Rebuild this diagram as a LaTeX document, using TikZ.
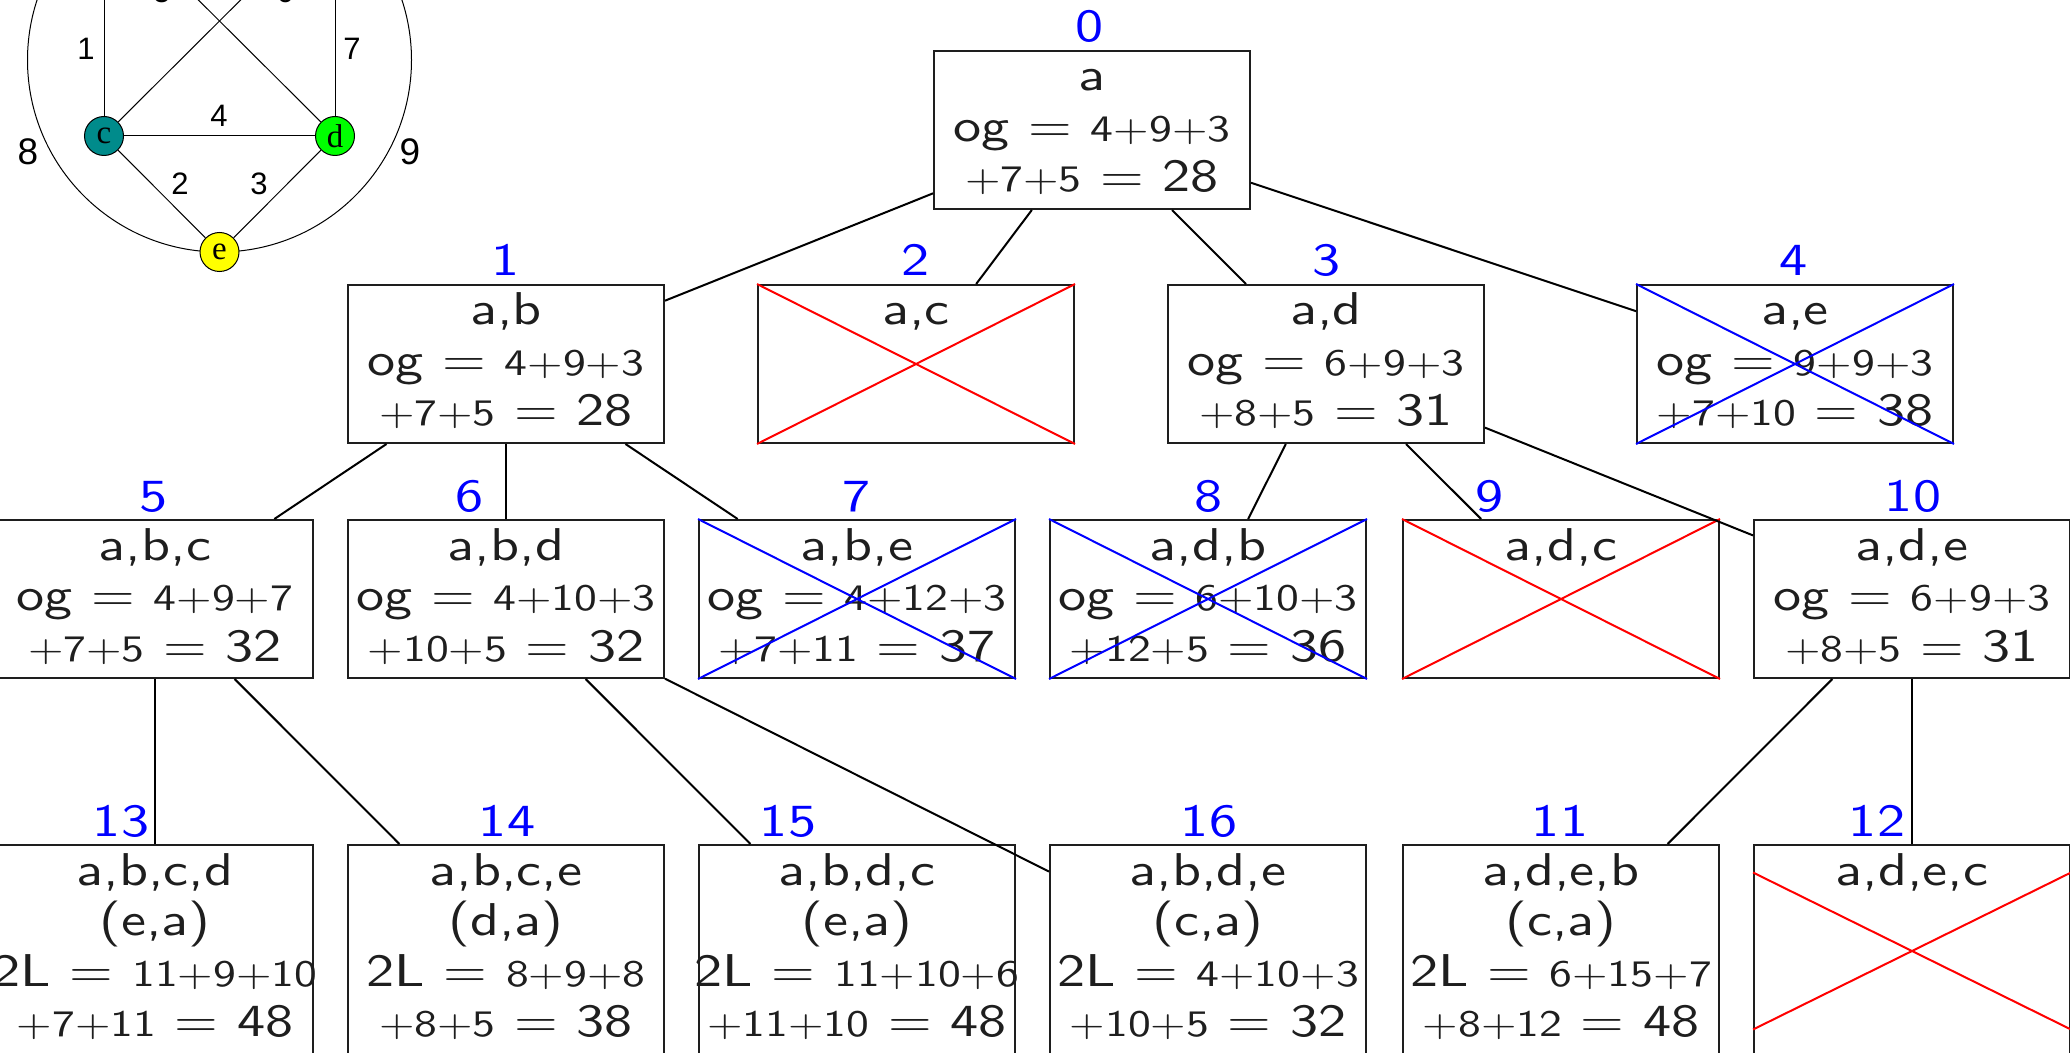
\documentclass[tikz,border=0pt]{standalone}
\usepackage{fontspec}
\usetikzlibrary{calc}
% wide sans for the search tree, Arial/Times-like faces for the small graph
\newfontfamily\treefont[FakeStretch=1.22]{lmsans10-regular.otf}
\newfontfamily\edgefont{Liberation Sans}
\newfontfamily\vertfont{Liberation Serif}
\newcommand\bigsz{\fontsize{23}{25.25}\selectfont}
\newcommand\sm[1]{{\fontsize{18.7}{25.25}\selectfont #1}}
\definecolor{ink}{RGB}{30,30,30}
\definecolor{vtxc}{RGB}{0,139,139}
\definecolor{vtxd}{RGB}{0,255,0}
\definecolor{vtxe}{RGB}{255,255,0}
% one box of the tree: name, centre x, top edge, height, text lines
\newcommand\treebox[5]{%
  \node[tbox, minimum height=#4*0.5pt] (#1) at (#2,{#3+#4/2}) {};
  \node[ttext] (#1-text) at (#2,{#3+40}) {\parbox[t]{250pt}{\centering #5}};
}
\newcommand\crossout[2]{%
  \draw[#2] (#1.north west) -- (#1.south east) (#1.south west) -- (#1.north east);
}
\begin{document}
\begin{tikzpicture}[x=0.5pt,y=-0.5pt,
  tbox/.style={draw=ink, line width=1pt, rectangle, minimum width=158pt, inner sep=0pt},
  ttext/.style={anchor=base, inner sep=0pt, text=ink, font=\treefont\bigsz},
  lab/.style={anchor=base, inner sep=0pt, text=blue, font=\treefont\bigsz},
  conn/.style={draw=black, line width=1pt},
  redx/.style={draw=red, line width=1pt},
  bluex/.style={draw=blue, line width=1pt},
  gedge/.style={draw=black, line width=0.5pt},
  vtx/.style={circle, draw=black, line width=0.5pt, minimum size=19.5pt, inner sep=0pt, font=\vertfont\fontsize{16.5}{17}\selectfont},
  elab/.style={anchor=base, inner sep=0pt, font=\edgefont\fontsize{15.5}{17}\selectfont},
  elabbig/.style={anchor=base, inner sep=0pt, font=\edgefont\fontsize{18.5}{20}\selectfont}]
\useasboundingbox (0,0) rectangle (2070,1053);
\clip (0,0) rectangle (2070,1053);

% ---- small weighted graph ----
\coordinate (gcen) at (219.5,60);
\draw[gedge] (gcen) circle[radius=96pt];
\coordinate (va) at (104,-94);
\coordinate (vb) at (335,-94);
\node[vtx, fill=vtxc] (vc) at (104,136) {c};
\node[vtx, fill=vtxd] (vd) at (335,136) {d};
\node[vtx, fill=vtxe] (ve) at (219.5,252) {e};
\draw[gedge] (va) -- (vc);
\draw[gedge] (vb) -- (vd);
\draw[gedge] (vc) -- (vb);
\draw[gedge] (vd) -- (va);
\draw[gedge] (vc) -- (vd);
\draw[gedge] (vc) -- (ve);
\draw[gedge] (vd) -- (ve);
\node[elab] (w1) at (86,60) {1};
\node[elab] (w7) at (352,60) {7};
\node[elab] (w4) at (219,127) {4};
\node[elab] (w2) at (180,195) {2};
\node[elab] (w3) at (259,195) {3};
\node[elab] (w5) at (162,3) {5};
\node[elab] (w6) at (285,3) {6};
\node[elabbig] (w8) at (28,165) {8};
\node[elabbig] (w9) at (410,165) {9};

% ---- search tree ----
\treebox{b0}{1092}{51}{158}{a\\og = \sm{4+9+3}\\\sm{+7+5} = 28}
\treebox{b1}{506}{285}{158}{a,b\\og = \sm{4+9+3}\\\sm{+7+5} = 28}
\treebox{b2}{916}{285}{158}{a,c}
\treebox{b3}{1326}{285}{158}{a,d\\og = \sm{6+9+3}\\\sm{+8+5} = 31}
\treebox{b4}{1795}{285}{158}{a,e\\og = \sm{9+9+3}\\\sm{+7+10} = 38}
\treebox{b5}{155}{520}{158}{a,b,c\\og = \sm{4+9+7}\\\sm{+7+5} = 32}
\treebox{b6}{506}{520}{158}{a,b,d\\og = \sm{4+10+3}\\\sm{+10+5} = 32}
\treebox{b7}{857}{520}{158}{a,b,e\\og = \sm{4+12+3}\\\sm{+7+11} = 37}
\treebox{b8}{1208}{520}{158}{a,d,b\\og = \sm{6+10+3}\\\sm{+12+5} = 36}
\treebox{b9}{1561}{520}{158}{a,d,c}
\treebox{b10}{1912}{520}{158}{a,d,e\\og = \sm{6+9+3}\\\sm{+8+5} = 31}
\treebox{b13}{155}{845}{212}{a,b,c,d\\(e,a)\\2L = \sm{11+9+10}\\\sm{+7+11} = 48}
\treebox{b14}{506}{845}{212}{a,b,c,e\\(d,a)\\2L = \sm{8+9+8}\\\sm{+8+5} = 38}
\treebox{b15}{857}{845}{212}{a,b,d,c\\(e,a)\\2L = \sm{11+10+6}\\\sm{+11+10} = 48}
\treebox{b16}{1208}{845}{212}{a,b,d,e\\(c,a)\\2L = \sm{4+10+3}\\\sm{+10+5} = 32}
\treebox{b11}{1561}{845}{212}{a,d,e,b\\(c,a)\\2L = \sm{6+15+7}\\\sm{+8+12} = 48}
\treebox{b12}{1912}{845}{212}{a,d,e,c}

% pruned branches
\crossout{b2}{redx}
\crossout{b9}{redx}
\crossout{b4}{bluex}
\crossout{b7}{bluex}
\crossout{b8}{bluex}
\draw[redx] ([yshift=39.25pt]b12.west) -- ([yshift=-39.25pt]b12.east)
            ([yshift=-39.25pt]b12.west) -- ([yshift=39.25pt]b12.east);

% tree edges
\foreach \p/\c in {b0/b1,b0/b2,b0/b3,b0/b4,b1/b5,b1/b6,b1/b7,b3/b8,b3/b9,b3/b10,
                   b5/b13,b5/b14,b6/b15,b6/b16,b10/b11,b10/b12}
  \draw[conn] (\p) -- (\c);

% visiting order
\node[lab] (l0) at (1090,42) {0};
\node[lab] (l1) at (506,276) {1};
\node[lab] (l2) at (916,276) {2};
\node[lab] (l3) at (1327,276) {3};
\node[lab] (l4) at (1794,276) {4};
\node[lab] (l5) at (154,511) {5};
\node[lab] (l6) at (470,511) {6};
\node[lab] (l7) at (857,511) {7};
\node[lab] (l8) at (1209,511) {8};
\node[lab] (l9) at (1490,511) {9};
\node[lab] (l10) at (1913,511) {10};
\node[lab] (l13) at (121,836) {13};
\node[lab] (l14) at (507,836) {14};
\node[lab] (l15) at (788,836) {15};
\node[lab] (l16) at (1209,836) {16};
\node[lab] (l11) at (1560,836) {11};
\node[lab] (l12) at (1877,836) {12};
\end{tikzpicture}
\end{document}
